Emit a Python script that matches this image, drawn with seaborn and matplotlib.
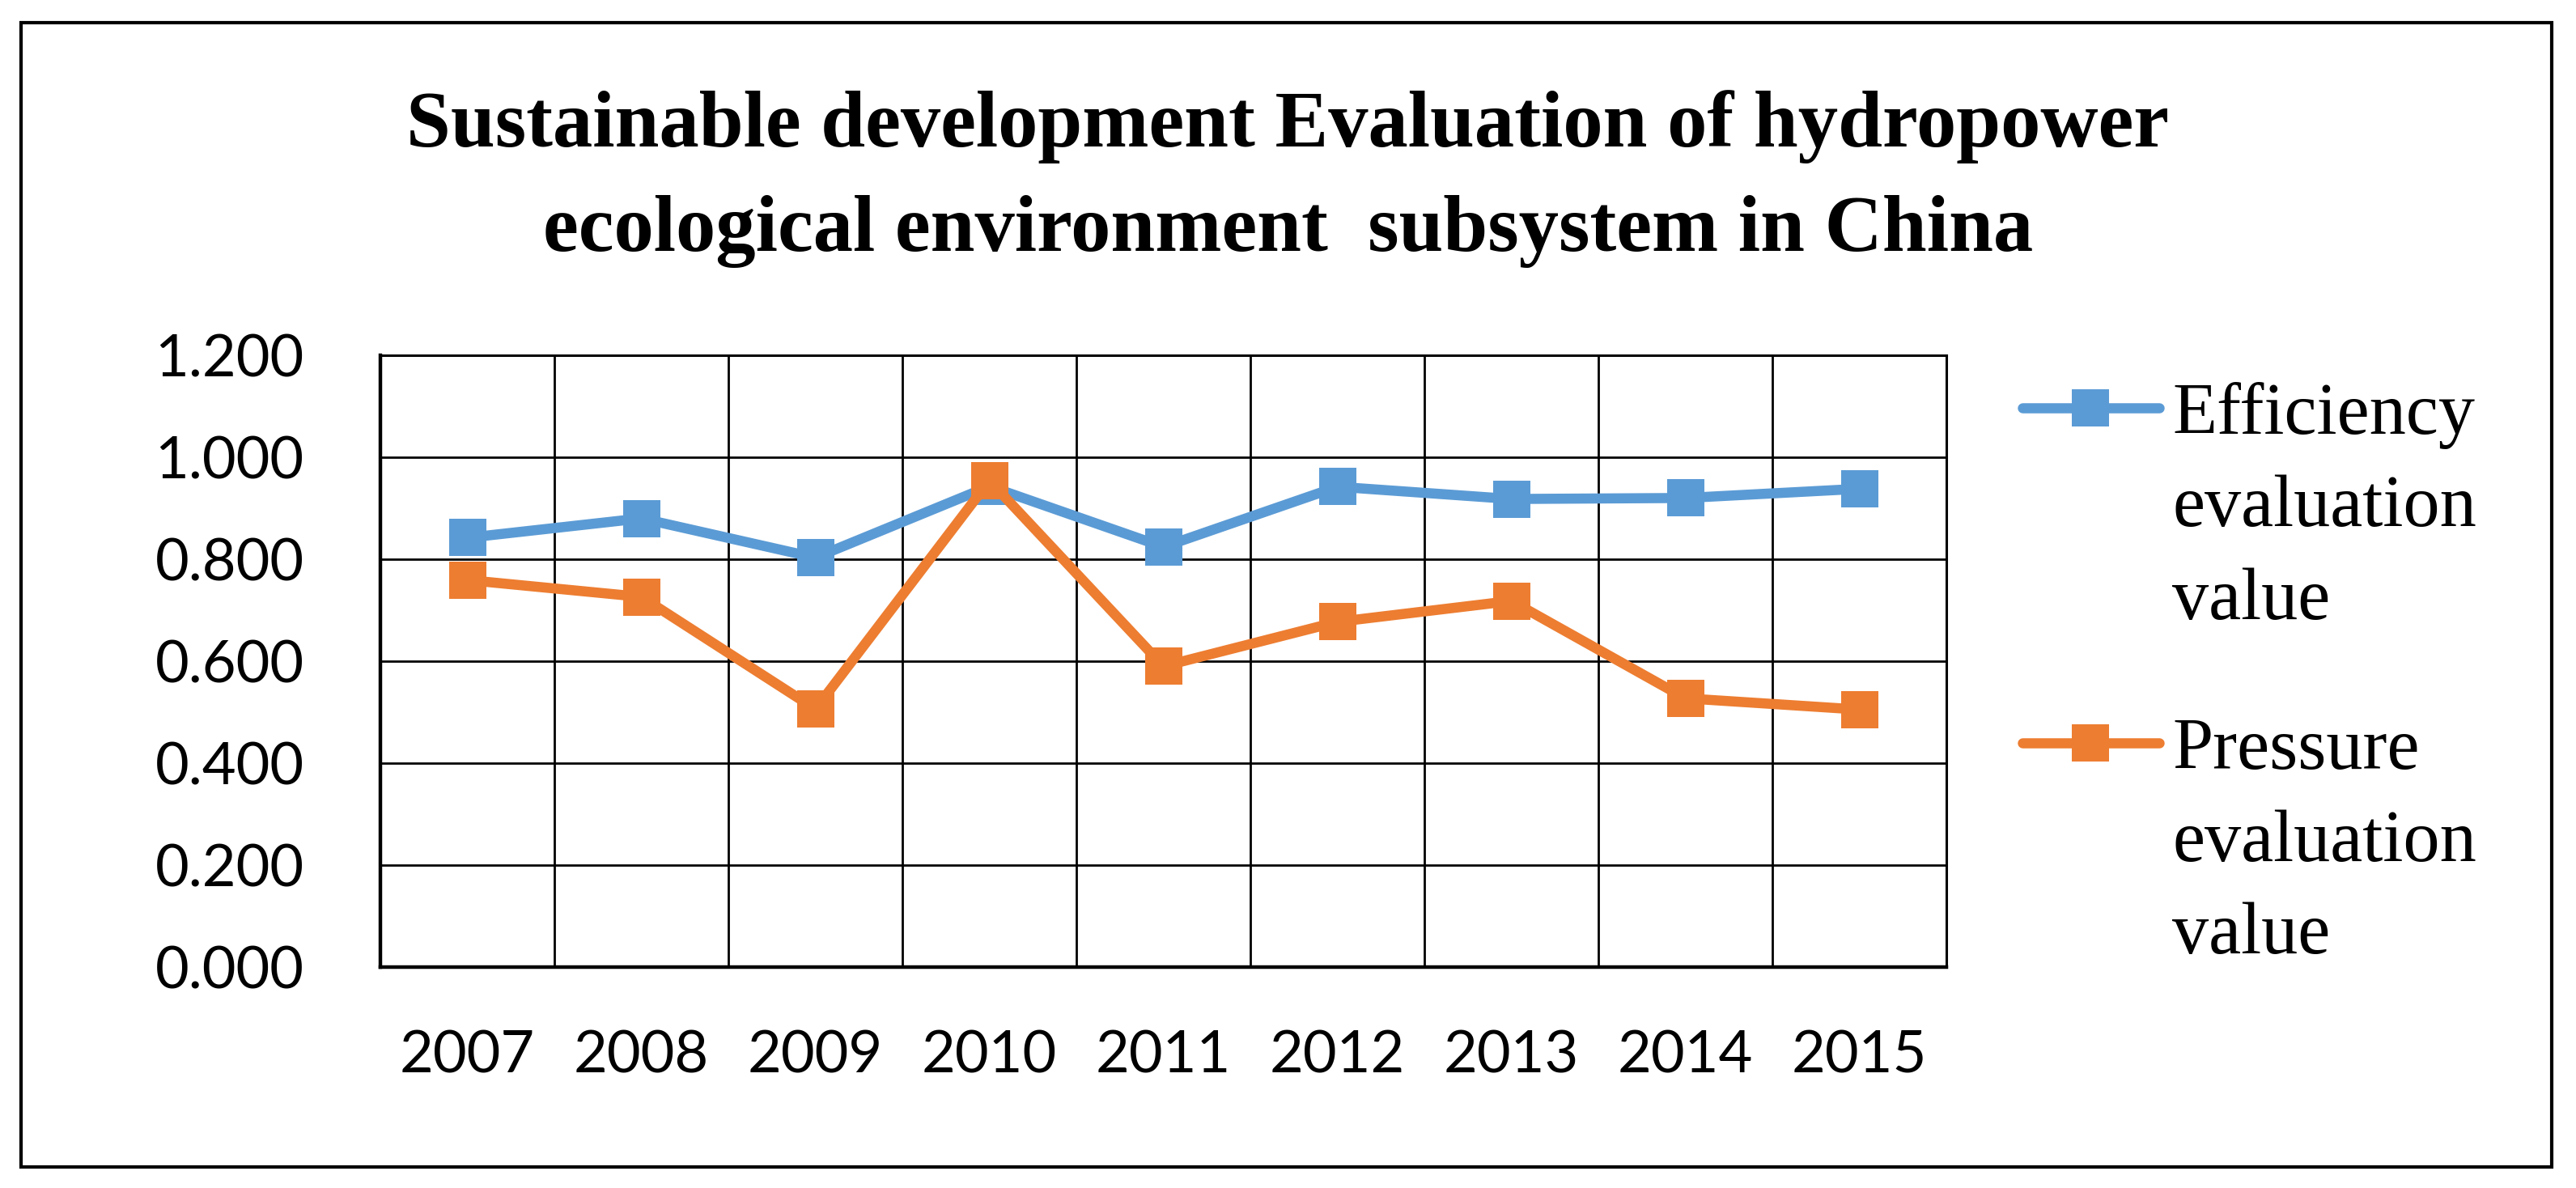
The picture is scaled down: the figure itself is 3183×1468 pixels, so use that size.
import numpy as np
import pandas as pd
import matplotlib.pyplot as plt
from matplotlib.patches import Rectangle
import seaborn as sns

# values
years = [2007, 2008, 2009, 2010, 2011, 2012, 2013, 2014, 2015]
efficiency = [0.842, 0.880, 0.803, 0.943, 0.824, 0.942, 0.918, 0.920, 0.938]
pressure = [0.759, 0.726, 0.506, 0.954, 0.590, 0.677, 0.718, 0.527, 0.505]
series_names = ["Efficiency evaluation value", "Pressure evaluation value"]
legend_labels = ["Efficiency\nevaluation\nvalue", "Pressure\nevaluation\nvalue"]
y_ticks = [0.0, 0.2, 0.4, 0.6, 0.8, 1.0, 1.2]
title = ("Sustainable development Evaluation of hydropower\n"
         "ecological environment  subsystem in China")

df = pd.DataFrame({
    "year": years * 2,
    "value": efficiency + pressure,
    "series": [series_names[0]] * len(years) + [series_names[1]] * len(years),
})

sns.set_theme(style="white")
plt.rcParams["font.family"] = ["Lato", "DejaVu Sans"]
plt.rcParams["text.color"] = "black"

fig = plt.figure(figsize=(31.83, 14.68), dpi=100)
ax = fig.add_axes([0.1477, 0.186, 0.6079, 0.515])

sns.lineplot(data=df, x="year", y="value", hue="series", hue_order=series_names,
             palette=["#5B9BD5", "#ED7D31"], marker="s", markersize=33,
             markeredgewidth=0, linewidth=9, legend=False, errorbar=None, ax=ax)

ax.set_xlim(2006.5, 2015.5)
ax.set_ylim(0, 1.2)
ax.set_xticks(years)
ax.set_xticklabels([str(y) for y in years])
ax.set_xticks(np.arange(2006.5, 2015.6, 1), minor=True)
ax.set_yticks(y_ticks)
ax.set_yticklabels([f"{v:.3f}" for v in y_ticks])
ax.set_xlabel("")
ax.set_ylabel("")

ax.set_axisbelow(True)
ax.grid(axis="y", which="major", color="black", linewidth=2.0)
ax.grid(axis="x", which="minor", color="black", linewidth=2.0)
ax.grid(axis="x", which="major", visible=False)
ax.tick_params(which="both", length=0)
ax.tick_params(axis="y", pad=68, labelsize=52, colors="black")
ax.tick_params(axis="x", pad=56, labelsize=52, colors="black")

for side in ["left", "bottom"]:
    ax.spines[side].set_linewidth(3.2)
for side in ["top", "right"]:
    ax.spines[side].set_linewidth(2.2)
for s in ax.spines.values():
    s.set_color("black")
    s.set_visible(True)

fig.text(0.5, 1 - 310 / 1468, title, ha="center", va="baseline", fontsize=71,
         fontweight="bold", family="Liberation Serif", linespacing=1.57,
         color="black")

leg = ax.legend(handles=ax.lines[:2], labels=legend_labels, loc="upper left",
                bbox_to_anchor=(2499 / 3183, 1 - 472 / 1468),
                bbox_transform=fig.transFigure, frameon=False, borderpad=0,
                borderaxespad=0, handlelength=1.87, handletextpad=0.18,
                labelspacing=1.14, prop={"family": "Liberation Serif", "size": 65})
for t in leg.get_texts():
    t.set_linespacing(1.5)
    t.set_color("black")
# put the legend symbol next to the first line of each label
for col in leg._legend_handle_box.get_children():
    for row in col.get_children():
        row.align = "top"

# outer frame
fig.patches.append(Rectangle((26 / 3183, 1 - 1442 / 1468), (3153 - 26) / 3183,
                             (1442 - 28) / 1468, transform=fig.transFigure,
                             fill=False, edgecolor="black", linewidth=3))

fig.savefig("out.png", dpi=100, facecolor="white")
